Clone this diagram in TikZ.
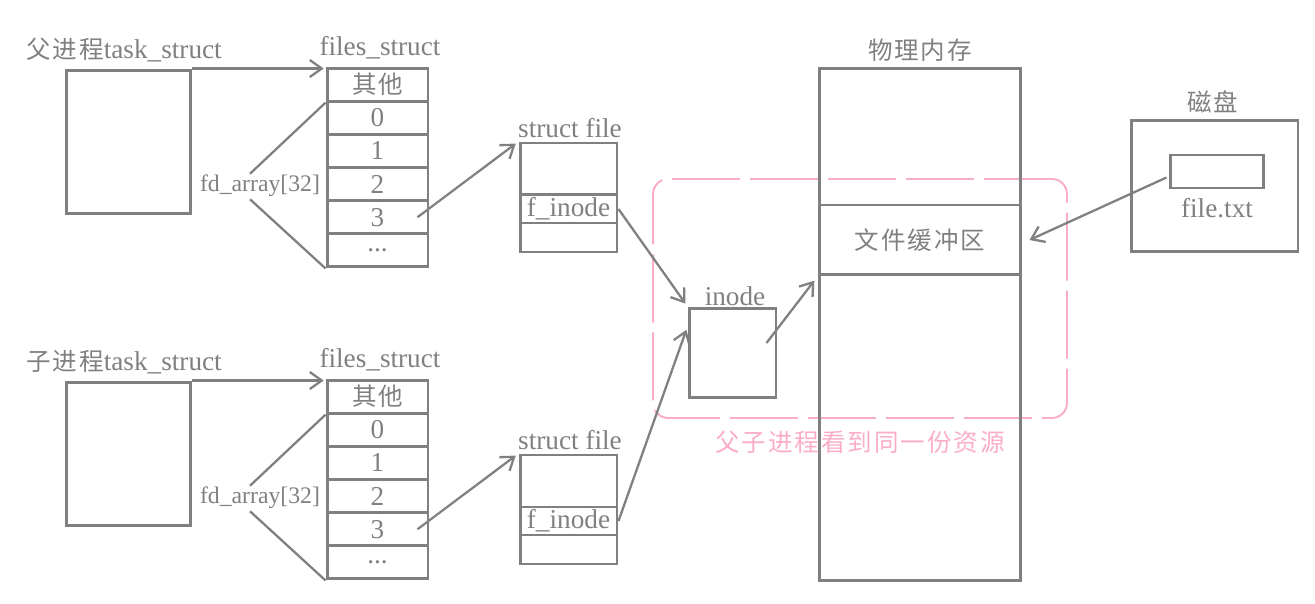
\documentclass[tikz,border=0pt]{standalone}
\usepackage{fontspec}
\setmainfont{Liberation Serif}
\newfontfamily\cjk{Noto Sans CJK SC}[LetterSpace=8,Scale=0.9]
\usetikzlibrary{arrows.meta,calc}
\definecolor{boxgray}{RGB}{128,128,128}
\definecolor{sharepink}{RGB}{250,172,200}

\begin{document}
\begin{tikzpicture}[x=0.02cm,y=-0.02cm]
	\tikzstyle{fsbox} = [draw=boxgray,line width=1.7pt,inner sep=0pt,text=boxgray,font=\fontsize{15.5}{18}\selectfont]
	\tikzstyle{fdcell} = [fsbox,minimum width=2.02cm,minimum height=0.663cm]
	\tikzstyle{filecell} = [fsbox,minimum width=1.94cm]
	\tikzstyle{lbl} = [text=boxgray,inner sep=0pt,font=\fontsize{15.5}{18}\selectfont]
	\tikzstyle{ptr} = [-{Straight Barb[length=2.4mm,width=3.4mm]},draw=boxgray,line width=1.3pt]
	\tikzstyle{brace} = [draw=boxgray,line width=1.3pt]

	\def\offy{312}
	\useasboundingbox (0,0) rectangle (1315,604);

	% SHARED AREA %
	\node[draw=sharepink,line width=1.1pt,rounded corners=0.3cm,dash pattern=on 1.36cm off 0.2cm,
		minimum width=8.28cm,minimum height=4.78cm] (share) at (860,298.5) {};
	\node[lbl,text=sharepink] (sharelabel) at (860,442) {\cjk 父子进程看到同一份资源};

	% PARENT %
	\node[lbl,anchor=west] (plabel) at (26,50) {{\cjk 父进程}task\_struct};
	\node[fsbox,minimum width=2.5cm,minimum height=2.88cm] (ptask) at (128.5,142) {};
	\node[lbl] (pfslabel) at (380,48) {files\_struct};
	\node[fdcell] (pother) at (377.5,84.6) {\cjk 其他};
	\node[fdcell] (p0) at (377.5,117.75) {0};
	\node[fdcell] (p1) at (377.5,150.9) {1};
	\node[fdcell] (p2) at (377.5,184.1) {2};
	\node[fdcell] (p3) at (377.5,217.25) {3};
	\node[fdcell] (pdots) at (377.5,250.4) {...};
	\node[lbl,font=\fontsize{13.5}{16}\selectfont] (pfd) at (260,186) {fd\_array[32]};
	\node[lbl] (pfilelabel) at (570,128) {struct file};
	\node[filecell,minimum height=1.04cm] (pfa) at (568.5,169) {};
	\node[filecell,minimum height=0.56cm] (pfinode) at (568.5,209) {f\_inode};
	\node[filecell,minimum height=0.58cm] (pfb) at (568.5,237.5) {};

	% CHILD %
	\node[lbl,anchor=west] (clabel) at (26,50+\offy) {{\cjk 子进程}task\_struct};
	\node[fsbox,minimum width=2.5cm,minimum height=2.88cm] (ctask) at (128.5,142+\offy) {};
	\node[lbl] (cfslabel) at (380,48+\offy) {files\_struct};
	\node[fdcell] (cother) at (377.5,84.6+\offy) {\cjk 其他};
	\node[fdcell] (c0) at (377.5,117.75+\offy) {0};
	\node[fdcell] (c1) at (377.5,150.9+\offy) {1};
	\node[fdcell] (c2) at (377.5,184.1+\offy) {2};
	\node[fdcell] (c3) at (377.5,217.25+\offy) {3};
	\node[fdcell] (cdots) at (377.5,250.4+\offy) {...};
	\node[lbl,font=\fontsize{13.5}{16}\selectfont] (cfd) at (260,186+\offy) {fd\_array[32]};
	\node[lbl] (cfilelabel) at (570,128+\offy) {struct file};
	\node[filecell,minimum height=1.04cm] (cfa) at (568.5,169+\offy) {};
	\node[filecell,minimum height=0.56cm] (cfinode) at (568.5,209+\offy) {f\_inode};
	\node[filecell,minimum height=0.58cm] (cfb) at (568.5,237.5+\offy) {};

	% INODE, MEMORY, DISK %
	\node[lbl] (inodelabel) at (735,296) {inode};
	\node[fsbox,minimum width=1.74cm,minimum height=1.8cm] (inode) at (732.5,353) {};
	\node[lbl] (memlabel) at (920,50) {\cjk 物理内存};
	\node[fsbox,minimum width=4.04cm,minimum height=10.26cm] (mem) at (920,324.5) {};
	\node[fsbox,minimum width=4.04cm,minimum height=1.4cm] (buf) at (920,240) {\cjk 文件缓冲区};
	\node[lbl] (disklabel) at (1213,102) {\cjk 磁盘};
	\node[fsbox,minimum width=3.34cm,minimum height=2.64cm] (disk) at (1214.5,186) {};
	\node[fsbox,minimum width=1.86cm,minimum height=0.66cm] (txt) at (1216.5,171.5) {};
	\node[lbl] (txtlabel) at (1217,208) {file.txt};

	% EDGES %
	%parent
	\draw[ptr,shorten >=1pt] (ptask.north east) -- (ptask.north east -| pother.west);
	\draw[brace] ($(pfd.north)+(-10,-1)$) -- (pother.south west);
	\draw[brace] ($(pfd.south)+(-10,2)$) -- (pdots.south west);
	\draw[ptr,shorten >=2pt] ($(p3.east)+(-12,0)$) -- (pfa.north west);
	\draw[ptr,shorten >=2pt] (pfinode.east) -- (inode.north west);
	%child
	\draw[ptr,shorten >=1pt] (ctask.north east) -- (ctask.north east -| cother.west);
	\draw[brace] ($(cfd.north)+(-10,-1)$) -- (cother.south west);
	\draw[brace] ($(cfd.south)+(-10,2)$) -- (cdots.south west);
	\draw[ptr,shorten >=2pt] ($(c3.east)+(-12,0)$) -- (cfa.north west);
	\draw[ptr,shorten >=2pt] (cfinode.east) -- ($(inode.north west)+(0,20)$);
	%memory
	\draw[ptr,shorten >=3pt] ($(inode.east)+(-11,-10)$) -- (buf.south west);
	\draw[ptr] ($(txt.west)+(-2,6)$) -- ($(buf.east)+(7,0)$);
\end{tikzpicture}
\end{document}
